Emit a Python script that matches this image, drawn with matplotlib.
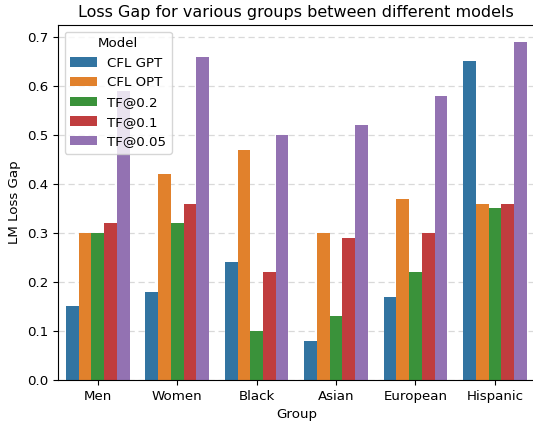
import matplotlib
matplotlib.use("Agg")
import matplotlib.pyplot as plt
import seaborn as sns
import pandas as pd

groups = ["Men", "Women", "Black", "Asian", "European", "Hispanic"]
models = ["CFL GPT", "CFL OPT", "TF@0.2", "TF@0.1", "TF@0.05"]
cfl_gpt = [0.15, 0.18, 0.24, 0.08, 0.17, 0.65]
cfl_opt = [0.30, 0.42, 0.47, 0.30, 0.37, 0.36]
tf_02 = [0.30, 0.32, 0.10, 0.13, 0.22, 0.35]
tf_01 = [0.32, 0.36, 0.22, 0.29, 0.30, 0.36]
tf_005 = [0.59, 0.66, 0.50, 0.52, 0.58, 0.69]

series = [cfl_gpt, cfl_opt, tf_02, tf_01, tf_005]
rows = []
for m, vals in zip(models, series):
    for g, v in zip(groups, vals):
        rows.append({"Group": g, "Model": m, "LM Loss Gap": v})
df = pd.DataFrame(rows)

plt.rcParams["font.size"] = 9.6
fig = plt.figure(figsize=(5.33, 4.23), dpi=100)
ax = fig.add_axes([0.109, 0.1017, 0.894, 0.8393])
sns.barplot(data=df, x="Group", y="LM Loss Gap", hue="Model", ax=ax,
            order=groups, hue_order=models, palette="tab10")
ax.set_axisbelow(True)
ax.yaxis.grid(True, linestyle=(0, (5, 3)), color="#d0d0d0", alpha=0.8, linewidth=0.9)
ax.set_title("Loss Gap for various groups between different models", fontsize=11.5)
ax.legend(title="Model", loc="upper left", fontsize=9.6, title_fontsize=9.6)
fig.savefig("out.png", dpi=100)
